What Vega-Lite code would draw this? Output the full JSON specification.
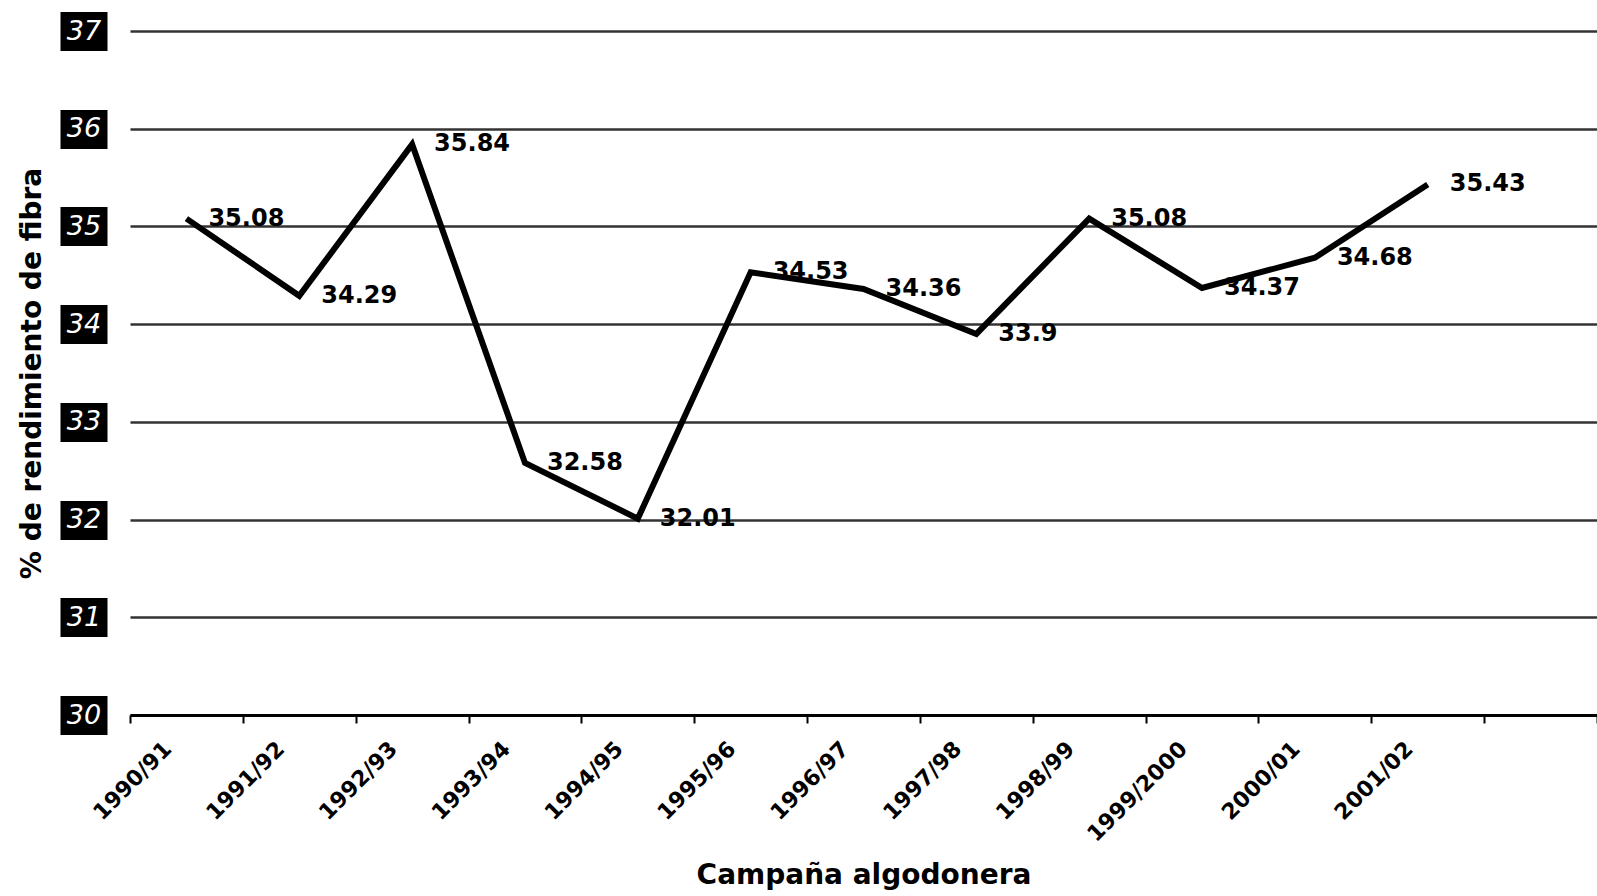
{
  "$schema": "https://vega.github.io/schema/vega-lite/v6.json",
  "width": 1467,
  "height": 684,
  "autosize": {"type": "none"},
  "padding": {"left": 130, "top": 31, "right": 0, "bottom": 181},
  "background": "white",
  "data": {
    "values": [
      {"campana": "1990/91", "valor": 35.08},
      {"campana": "1991/92", "valor": 34.29},
      {"campana": "1992/93", "valor": 35.84},
      {"campana": "1993/94", "valor": 32.58},
      {"campana": "1994/95", "valor": 32.01},
      {"campana": "1995/96", "valor": 34.53},
      {"campana": "1996/97", "valor": 34.36},
      {"campana": "1997/98", "valor": 33.9},
      {"campana": "1998/99", "valor": 35.08},
      {"campana": "1999/2000", "valor": 34.37},
      {"campana": "2000/01", "valor": 34.68},
      {"campana": "2001/02", "valor": 35.43}
    ]
  },
  "encoding": {
    "x": {
      "field": "campana",
      "type": "nominal",
      "sort": null,
      "scale": {
        "type": "band",
        "domain": ["1990/91", "1991/92", "1992/93", "1993/94", "1994/95", "1995/96", "1996/97", "1997/98", "1998/99", "1999/2000", "2000/01", "2001/02", " "],
        "paddingInner": 0,
        "paddingOuter": 0
      },
      "axis": {
        "title": "Campaña algodonera",
        "titleFont": "DejaVu Sans",
        "titleFontWeight": "bold",
        "titleFontSize": 28,
        "titleColor": "black",
        "titlePadding": 16,
        "domain": true,
        "domainColor": "black",
        "domainWidth": 3,
        "ticks": true,
        "tickBand": "extent",
        "tickColor": "black",
        "tickWidth": 2,
        "tickSize": 8,
        "grid": false,
        "labelAngle": -45,
        "labelFont": "DejaVu Sans",
        "labelFontWeight": "bold",
        "labelFontSize": 22,
        "labelColor": "black",
        "labelPadding": 15,
        "labelOffset": -26,
        "labelOverlap": false,
        "labelBound": false,
        "labelFlush": false
      }
    },
    "y": {
      "field": "valor",
      "type": "quantitative",
      "scale": {"domain": [30, 37], "nice": false, "zero": false},
      "axis": {
        "title": "% de rendimiento de fibra",
        "titleFont": "DejaVu Sans",
        "titleFontWeight": "bold",
        "titleFontSize": 28,
        "titleColor": "black",
        "titlePadding": -6,
        "values": [30, 31, 32, 33, 34, 35, 36, 37],
        "offset": 23,
        "domain": false,
        "ticks": true,
        "tickSize": 47,
        "tickWidth": 39,
        "tickColor": "black",
        "tickCap": "butt",
        "labelPadding": -23.5,
        "labelAlign": "center",
        "labelBaseline": "middle",
        "labelColor": "white",
        "labelFont": "DejaVu Sans",
        "labelFontStyle": "italic",
        "labelFontSize": 27,
        "labelFlush": false,
        "labelOverlap": false,
        "labelBound": false,
        "grid": true,
        "gridColor": "#333333",
        "gridWidth": 2.5
      }
    }
  },
  "layer": [
    {"mark": {"type": "line", "color": "black", "strokeWidth": 6, "strokeJoin": "miter"}},
    {
      "mark": {"type": "text", "align": "left", "baseline": "middle", "dx": 22, "font": "DejaVu Sans", "fontWeight": "bold", "fontSize": 24, "color": "black"},
      "encoding": {"text": {"field": "valor", "type": "quantitative", "format": "~g"}}
    }
  ],
  "config": {"view": {"stroke": null}}
}
